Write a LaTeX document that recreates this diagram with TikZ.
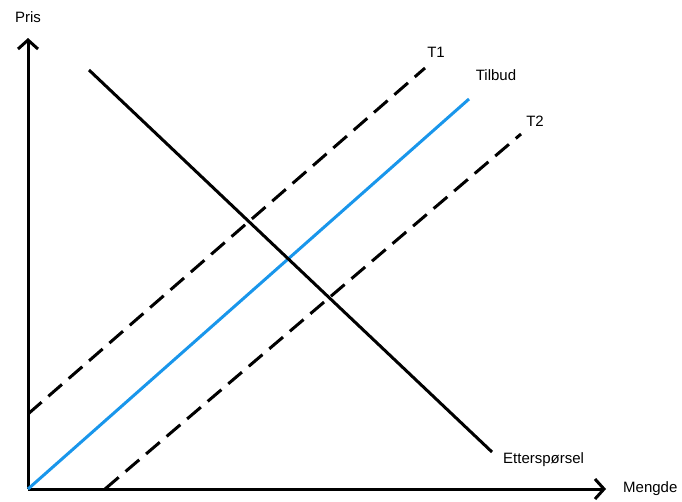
\documentclass[tikz,border=0pt]{standalone}
\usepackage{fontspec}
\setmainfont{Liberation Sans}
\usepackage{tikz}
\usetikzlibrary{arrows.meta,positioning}
\usepackage{xcolor}
\definecolor{tilbudblue}{RGB}{25,150,235}

\begin{document}
\begin{tikzpicture}[x=1pt, y=-1pt, every node/.style={font=\fontsize{15}{17}\selectfont, inner sep=1pt}]
\tikzset{axis/.style={line width=3pt, -{Straight Barb[length=9pt, width=20pt, line width=3pt]}}}
\tikzset{curve/.style={line width=3pt}}
\tikzset{shifted/.style={curve, dash pattern=on 18pt off 9pt}}
\useasboundingbox (0,0) rectangle (682,501);
% axes
\coordinate (o) at (28,489);
\coordinate (ytop) at (28,38);
\coordinate (xend) at (606,489);
\draw[axis] (o) -- (ytop);
\draw[axis] (o) -- (xend);
\node (pris) at (28,17) {Pris};
\node[right=16pt of xend] (mengde) {Mengde};
% supply curves
\coordinate (t1a) at (28,414);
\coordinate (t1b) at (425,68);
\coordinate (sb) at (469,99);
\coordinate (t2a) at (105,489);
\coordinate (t2b) at (521,134);
\draw[shifted] (t1a) -- (t1b);
\draw[curve, tilbudblue] (o) -- (sb);
\draw[shifted] (t2a) -- (t2b);
\node (t1) at (436,52) {T1};
\node (tilbud) at (496,75) {Tilbud};
\node (t2) at (535,121) {T2};
% demand
\coordinate (da) at (89,70);
\coordinate (db) at (492,452);
\draw[curve] (da) -- (db);
\node[anchor=west] (ettersp) at (502,460) {Etterspørsel};
\end{tikzpicture}
\end{document}
